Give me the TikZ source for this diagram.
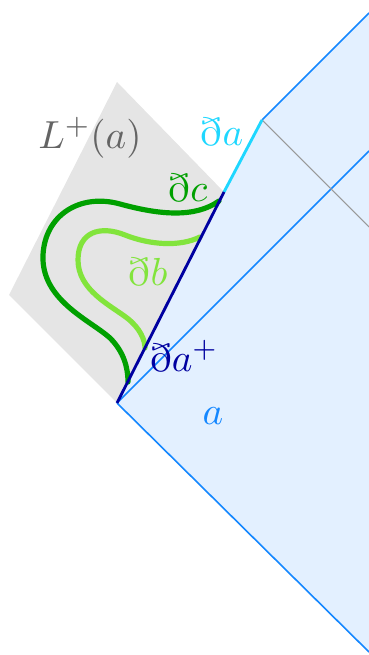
\documentclass[tikz,border=0pt]{standalone}
\usepackage{amssymb}
\definecolor{lineblue}{RGB}{20,135,255}
\definecolor{fillblue}{RGB}{227,240,255}
\definecolor{cyanb}{RGB}{30,215,255}
\definecolor{navyb}{RGB}{0,0,160}
\definecolor{dgreen}{RGB}{0,160,0}
\definecolor{lgreen}{RGB}{130,228,60}
\definecolor{grayfill}{RGB}{229,229,229}
\definecolor{graytext}{RGB}{100,100,100}
\tikzset{
  edgeline/.style={draw=lineblue, line width=0.45pt},
  thinline/.style={draw=black!40, line width=0.3pt},
  curve/.style={line width=1.45pt, line cap=round},
  lbl/.style={inner sep=0pt, font=\fontsize{11}{13}\selectfont}
}
\begin{document}
\begin{tikzpicture}[x=0.28pt, y=-0.28pt]
\useasboundingbox (0,0) rectangle (369,655);
\clip (0,0) rectangle (369,655);
% key points
\coordinate (B) at (117,403);
\coordinate (M) at (224,192);
\coordinate (T) at (262,120);
\coordinate (TR) at (369,13);
\coordinate (BR) at (369,652);
\coordinate (IR) at (369,151);
\coordinate (GR) at (369,227);
\coordinate (GT) at (117,82);
\coordinate (GL) at (9,295);
% gray region
\fill[grayfill] (B) -- (GL) -- (GT) -- (M) -- cycle;
% blue region
\fill[fillblue] (B) -- (T) -- (TR) -- (BR) -- cycle;
\draw[edgeline] (T) -- (TR);
\draw[edgeline] (B) -- (BR);
\draw[edgeline] (B) -- (IR);
\draw[thinline] (T) -- (GR);
% curves
\draw[curve, lgreen] (200,237) .. controls (180,247) and (150,245) .. (125,235) .. controls (100,225) and (78,232) .. (78,260) .. controls (78,290) and (110,305) .. (127,318) .. controls (140,328) and (145,340) .. (145,348);
\draw[curve, dgreen] (219,201) .. controls (195,218) and (160,215) .. (120,204) .. controls (80,193) and (45,215) .. (43,255) .. controls (41,300) and (90,320) .. (110,338) .. controls (124,352) and (128,368) .. (128,382);
% boundary
\draw[cyanb, line width=0.8pt] (M) -- (T);
\draw[navyb, line width=0.8pt] (B) -- (M);
% labels
\node[lbl, text=graytext] (L) at (90,138) {$L^+(a)$};
\node[lbl, text=cyanb] (la) at (222,132) {$\eth a$};
\node[lbl, text=dgreen] (lc) at (188,188) {$\eth c$};
\node[lbl, text=lgreen] (lb) at (148,272) {$\eth b$};
\node[lbl, text=navyb] (lap) at (184,356) {$\eth a^+$};
\node[lbl, text=lineblue] (a) at (213,416) {$a$};
\end{tikzpicture}
\end{document}
